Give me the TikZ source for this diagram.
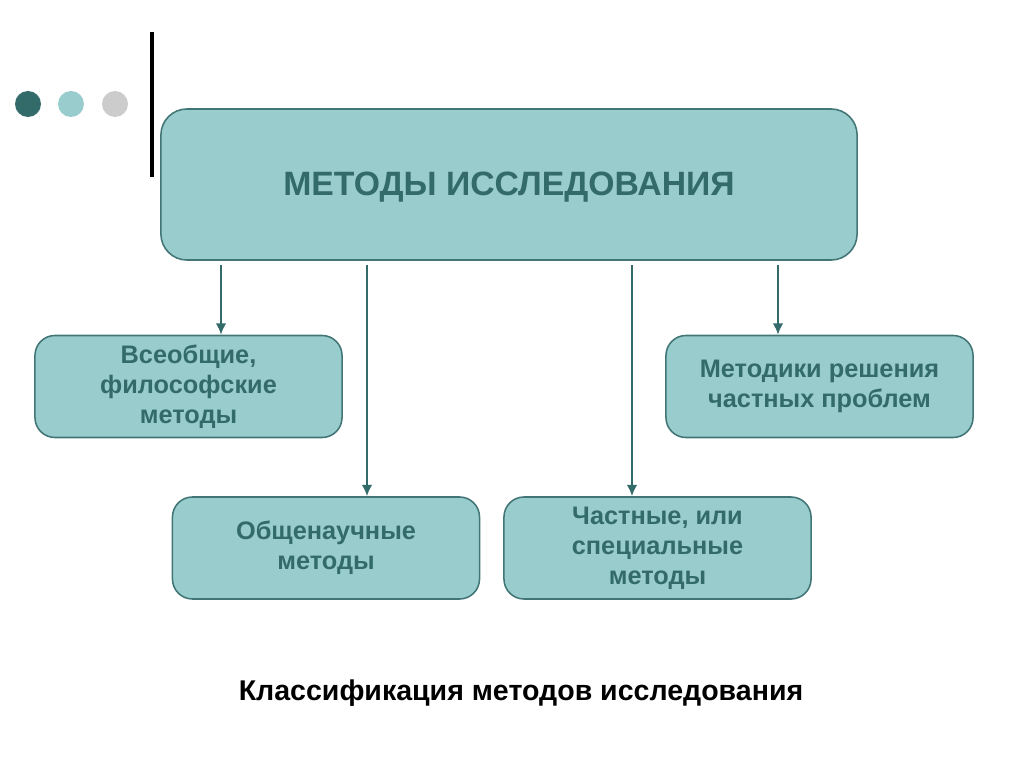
\documentclass[tikz,border=0pt]{standalone}
\usepackage{fontspec}
\setmainfont{Liberation Sans}
\usetikzlibrary{arrows.meta}
\definecolor{tealdark}{HTML}{336B6B}
\definecolor{teallight}{HTML}{99CCCC}
\definecolor{tealedge}{HTML}{427676}
\definecolor{dotgrey}{HTML}{CCCCCC}
\tikzset{
  bigbox/.style={draw=tealedge, line width=1.1pt, fill=teallight, rounded corners=0.65cm,
    minimum width=17.4cm, minimum height=3.775cm, text=tealdark,
    font=\fontsize{24}{28}\selectfont\bfseries},
  smallbox/.style={draw=tealedge, line width=1.1pt, fill=teallight, rounded corners=0.5cm,
    minimum width=7.675cm, minimum height=2.55cm, text=tealdark, align=center,
    font=\fontsize{18}{21.3}\selectfont\bfseries},
  arr/.style={draw=tealdark, line width=2.1pt, -{Latex[length=8pt,width=7.5pt]}, shorten <=3pt}
}
\begin{document}
\begin{tikzpicture}[x=0.025cm,y=-0.025cm]
\useasboundingbox (0,0) rectangle (1024,767);
% dots and bar
\fill[tealdark] (28,104) circle (13);
\fill[teallight] (71,104) circle (13);
\fill[dotgrey] (115,104) circle (13);
\draw[line width=3pt] (152,32) -- (152,177);
% boxes
\node[bigbox] (top) at (509,184.5) {};
\node[text=tealdark, font=\fontsize{24}{28}\selectfont\bfseries] (title) at (509,187) {МЕТОДЫ ИССЛЕДОВАНИЯ};
\node[smallbox] (gen) at (188.5,386.5) {Всеобщие,\\философские\\методы};
\node[smallbox] (sci) at (326,548) {Общенаучные\\методы};
\node[smallbox] (spec) at (657.5,548) {Частные, или\\специальные\\методы};
\node[smallbox] (prob) at (819.5,386.5) {Методики решения\\частных проблем};
% arrows
\draw[arr] (top.south -| 221,0) -- (gen.north -| 221,0);
\draw[arr] (top.south -| 367,0) -- (sci.north -| 367,0);
\draw[arr] (top.south -| 632,0) -- (spec.north -| 632,0);
\draw[arr] (top.south -| 778,0) -- (prob.north -| 778,0);
% caption
\node[font=\fontsize{20.3}{24}\selectfont\bfseries] (cap) at (521,693) {Классификация методов исследования};
\end{tikzpicture}
\end{document}
